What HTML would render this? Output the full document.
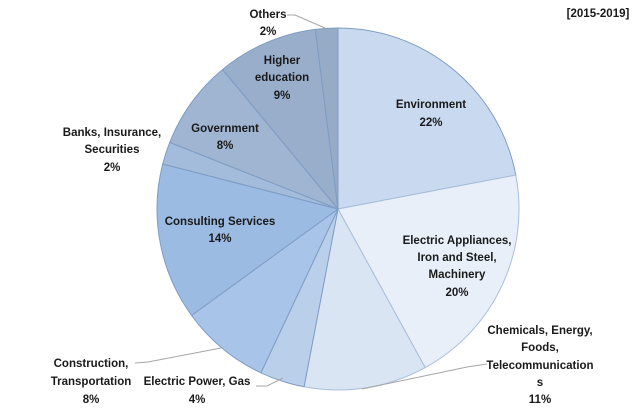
<!DOCTYPE html>
<html><head><meta charset="utf-8"><style>
html,body{margin:0;padding:0;background:#fff;}
svg text{font-family:"Liberation Sans",sans-serif;font-weight:bold;font-size:11.5px;fill:#1a1a1a;}
</style></head><body>
<svg width="644" height="412" viewBox="0 0 644 412" xmlns="http://www.w3.org/2000/svg">
<g stroke="#7f9cc4" stroke-width="1" stroke-linejoin="round">
<path d="M338,209 L338,28 A181,181 0 0 1 515.8,175.1 Z" fill="#c9daf0"/>
<path d="M338,209 L515.8,175.1 A181,181 0 0 1 425.2,367.6 Z" fill="#e8eff9" stroke="#a9bedb"/>
<path d="M338,209 L425.2,367.6 A181,181 0 0 1 304.1,386.8 Z" fill="#dae5f4" stroke="#a9bedb"/>
<path d="M338,209 L304.1,386.8 A181,181 0 0 1 260.9,372.8 Z" fill="#bacfea"/>
<path d="M338,209 L260.9,372.8 A181,181 0 0 1 191.6,315.4 Z" fill="#a8c4e8"/>
<path d="M338,209 L191.6,315.4 A181,181 0 0 1 162.7,164.0 Z" fill="#9bbbe3"/>
<path d="M338,209 L162.7,164.0 A181,181 0 0 1 169.7,142.4 Z" fill="#a4bcdb"/>
<path d="M338,209 L169.7,142.4 A181,181 0 0 1 222.6,69.5 Z" fill="#9fb5d2"/>
<path d="M338,209 L222.6,69.5 A181,181 0 0 1 315.3,29.4 Z" fill="#99aecb"/>
<path d="M338,209 L315.3,29.4 A181,181 0 0 1 338,28 Z" fill="#96abc6"/>
</g>
<g stroke="#a6a6a6" fill="none" stroke-width="1">
<polyline points="287,15 295,15 325,28"/>
<polyline points="135,363 148,362 221,348"/>
<polyline points="256,386 267,386 283,378"/>
<polyline points="487,364 467,367 362,389"/>
</g>
<g text-anchor="middle">
<text x="598" y="17">[2015-2019]</text>
<text x="268" y="18">Others</text><text x="268" y="35">2%</text>
<text x="282" y="64">Higher</text><text x="282" y="81">education</text><text x="282" y="99">9%</text>
<text x="225" y="132">Government</text><text x="225" y="149">8%</text>
<text x="112" y="136">Banks, Insurance,</text><text x="112" y="153">Securities</text><text x="112" y="171">2%</text>
<text x="431" y="108">Environment</text><text x="431" y="126">22%</text>
<text x="457" y="244">Electric Appliances,</text><text x="457" y="261">Iron and Steel,</text><text x="457" y="278">Machinery</text><text x="457" y="296">20%</text>
<text x="540" y="334">Chemicals, Energy,</text><text x="540" y="351">Foods,</text><text x="540" y="369">Telecommunication</text><text x="540" y="386">s</text><text x="540" y="403">11%</text>
<text x="220" y="225">Consulting Services</text><text x="220" y="242">14%</text>
<text x="91" y="367">Construction,</text><text x="91" y="385">Transportation</text><text x="91" y="403">8%</text>
<text x="197" y="385">Electric Power, Gas</text><text x="197" y="403">4%</text>
</g>
</svg>
</body></html>
